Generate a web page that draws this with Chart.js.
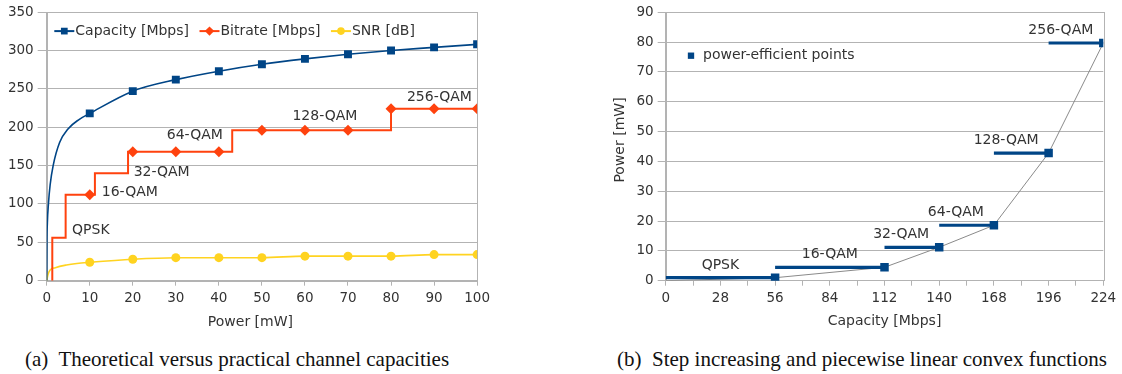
<!DOCTYPE html>
<html><head><meta charset="utf-8">
<script src="https://cdn.jsdelivr.net/npm/chart.js@4.4.1/dist/chart.umd.min.js"></script>
<style>
html,body{margin:0;padding:0;background:#fff;}
body{width:1122px;height:374px;position:relative;overflow:hidden;}
#wa{position:absolute;left:0;top:0;width:495px;height:335px;}
#wb{position:absolute;left:600px;top:0;width:522px;height:335px;}
.cap{position:absolute;top:347px;font-family:'Liberation Serif','Times New Roman',serif;font-size:21px;line-height:24px;color:#111;white-space:pre;}
</style></head><body>
<div id="wa"><canvas id="ca"></canvas></div>
<div id="wb"><canvas id="cb"></canvas></div>
<div class="cap" style="left:25px">(a)  Theoretical versus practical channel capacities</div>
<div class="cap" style="left:617px">(b)  Step increasing and piecewise linear convex functions</div>
<script>
// ---------- data ----------
const modulations = ['QPSK','16-QAM','32-QAM','64-QAM','128-QAM','256-QAM'];
const bitrates = [56,112,140,168,196,224];

// (a) theoretical vs practical
const capPower = [0,0.05,0.15,0.4,0.8,1.5,3,5,7.5,10,20,30,40,50,60,70,80,90,100];
const capacity = [0,50,75,100,125,150,180,198,210,218,247,262,273,282,289,295,300,304,308];
const snrPower = [0,0.3,0.8,2,4.6,7,10,20,30,40,50,60,70,80,90,100];
const snr = [0,8,14,17,20.5,22.5,24,28,30,30,30,32,32,32,34,34];
const switchPower = [1.3,4.4,11.2,18.9,43.1,80];
const samplePower = [10,20,30,40,50,60,70,80,90,100];
const sampleBitrate = [112,168,168,168,196,196,196,224,224,224];

// (b) power-efficient points
const capacityB = [56,112,140,168,196,224];
const powerB = [1,4.5,11.2,18.6,42.8,79.7];

// ---------- styles ----------
const FONT = 'DejaVu Sans';
const TXT = '#333';
const GRID = '#b3b3b3';
const BLUE = '#004586', ORANGE = '#ff420e', YELLOW = '#ffd320';

const frame = {
  id:'frame',
  beforeDatasetsDraw(chart){
    const a = chart.chartArea, c = chart.ctx;
    c.save(); c.strokeStyle = GRID; c.lineWidth = 1;
    c.strokeRect(Math.round(a.left)+0.5, Math.round(a.top)+0.5, Math.round(a.right-a.left), Math.round(a.bottom-a.top));
    c.restore();
  }
};

const axisTitles = {
  id:'axisTitles',
  afterDraw(chart, args, o){
    const a = chart.chartArea, c = chart.ctx;
    c.save(); c.fillStyle = TXT; c.font = '14px "' + FONT + '"';
    c.textAlign = 'center'; c.textBaseline = 'middle';
    if (o.x) c.fillText(o.x.text, (a.left+a.right)/2 + o.x.dx, a.bottom + o.x.dy);
    if (o.y) {
      c.translate(a.left + o.y.dx, (a.top+a.bottom)/2 + o.y.dy);
      c.rotate(-Math.PI/2);
      c.fillText(o.y.text, 0, 0);
    }
    c.restore();
  }
};

function marker(c, ds, x, y, scale){
  c.fillStyle = ds.pointBackgroundColor || ds.backgroundColor;
  c.strokeStyle = ds.pointBackgroundColor || ds.backgroundColor;
  Chart.helpers.drawPoint(c, {pointStyle: ds.pointStyle, radius: ds.legendRadius*scale, borderWidth: 0, rotation: 0}, x, y);
}

// ---------- chart (a) ----------
const isSample = p => samplePower.includes(p);

const stepData = [{x: switchPower[0], y: 0}].concat(
  switchPower.map((p,i)=>({x:p, y:bitrates[i]})),
  [{x:100, y:bitrates[bitrates.length-1]}]
);

const legendA = {
  id:'legendA',
  afterDraw(chart){
    const a = chart.chartArea, c = chart.ctx;
    const items = [
      {text:'Capacity [Mbps]', ds: chart.data.datasets[0]},
      {text:'Bitrate [Mbps]', ds: chart.data.datasets[2]},
      {text:'SNR [dB]', ds: chart.data.datasets[3]}
    ];
    let x = a.left + 7.6; const y = a.top + 19;
    c.save(); c.font = '14px "' + FONT + '"'; c.textBaseline = 'middle';
    for (const it of items){
      c.strokeStyle = it.ds.legendLine; c.lineWidth = 2;
      c.beginPath(); c.moveTo(x, y); c.lineTo(x+20, y); c.stroke();
      marker(c, it.ds, x+10, y, 0.85);
      c.fillStyle = TXT; c.fillText(it.text, x+21, y);
      x += 21 + c.measureText(it.text).width + 10.5;
    }
    c.restore();
  }
};

const labelsA = {
  id:'labelsA',
  afterDatasetsDraw(chart, args, o){
    const xs = chart.scales.x, ys = chart.scales.y, c = chart.ctx;
    c.save(); c.font = '14px "' + FONT + '"'; c.fillStyle = TXT;
    c.textAlign = 'left'; c.textBaseline = 'middle';
    modulations.forEach((m,i)=>{
      const an = o.anchors[i];
      c.fillText(m, xs.getPixelForValue(an[0]), ys.getPixelForValue(an[1]));
    });
    c.restore();
  }
};

new Chart(document.getElementById('ca'), {
  type:'line',
  data:{ datasets:[
    { label:'Capacity [Mbps]', order:0, data: capPower.map((p,i)=>({x:p,y:capacity[i]})),
      borderColor:BLUE, backgroundColor:BLUE, borderWidth:1.6, cubicInterpolationMode:'monotone',
      pointStyle:'rect', pointRadius: ctx => isSample(ctx.raw.x) ? 5.6 : 0, pointBorderWidth:0,
      legendRadius:5.6, legendLine:BLUE },
    { label:'Bitrate step', order:2, data: stepData, stepped:'before', borderColor:ORANGE, borderWidth:2,
      pointRadius:0 },
    { label:'Bitrate [Mbps]', order:1, data: samplePower.map((p,i)=>({x:p,y:sampleBitrate[i]})), showLine:false,
      borderColor:ORANGE, backgroundColor:ORANGE, pointStyle:'rectRot', pointRadius:5.5, pointBorderWidth:0,
      legendRadius:5.5, legendLine:ORANGE },
    { label:'SNR [dB]', order:3, data: snrPower.map((p,i)=>({x:p,y:snr[i]})),
      borderColor:YELLOW, backgroundColor:YELLOW, borderWidth:1.6, cubicInterpolationMode:'monotone',
      pointStyle:'circle', pointRadius: ctx => isSample(ctx.raw.x) ? 4.5 : 0, pointBorderWidth:0,
      legendRadius:4.5, legendLine:YELLOW }
  ]},
  options:{
    responsive:true, maintainAspectRatio:false, animation:false, events:[],
    layout:{ padding:{left:0, top:10, right:16.7, bottom:0} },
    plugins:{ legend:{display:false}, tooltip:{enabled:false},
      axisTitles:{ x:{text:'Power [mW]', dx:-11.5, dy:42} },
      labelsA:{ anchors:[[5.9,66],[12.8,114.6],[20.2,140.6],[27.9,189.7],[57.1,214.5],[83.7,239.2]] }
    },
    scales:{
      x:{ type:'linear', min:0, max:100,
        ticks:{ stepSize:10, color:TXT, font:{family:FONT, size:13.5}, padding:5, maxRotation:0 },
        grid:{ drawOnChartArea:false, tickLength:5, color:GRID },
        border:{ color:GRID },
        afterFit(s){ s.height = 54.3; } },
      y:{ min:0, max:350,
        ticks:{ stepSize:50, color:TXT, font:{family:FONT, size:13.5}, padding:4 },
        grid:{ color:GRID, tickLength:9 },
        border:{ color:GRID },
        afterFit(s){ s.width = 46.7; } }
    }
  },
  plugins:[frame, axisTitles, legendA, labelsA]
});

// ---------- chart (b) ----------
const barData = [];
capacityB.forEach((cap,i)=>{
  const start = i ? capacityB[i-1] : 0;
  barData.push({x:start, y:powerB[i]}, {x:cap, y:powerB[i]}, {x:cap, y:null});
});

const legendB = {
  id:'legendB',
  afterDraw(chart){
    const a = chart.chartArea, c = chart.ctx, ds = chart.data.datasets[2];
    c.save();
    marker(c, ds, a.left + 25.3, a.top + 43.4, 0.8);
    c.font = '14px "' + FONT + '"'; c.textBaseline = 'middle'; c.fillStyle = TXT;
    c.fillText('power-efficient points', a.left + 37.3, a.top + 43.4);
    c.restore();
  }
};

const labelsB = {
  id:'labelsB',
  afterDatasetsDraw(chart){
    const xs = chart.scales.x, ys = chart.scales.y, c = chart.ctx;
    c.save(); c.font = '14px "' + FONT + '"'; c.fillStyle = TXT;
    c.textAlign = 'center'; c.textBaseline = 'middle';
    modulations.forEach((m,i)=>{
      const x0 = xs.getPixelForValue(i ? capacityB[i-1] : 0);
      const x1 = xs.getPixelForValue(capacityB[i]);
      const w = c.measureText(m).width;
      const cx = Math.min((x0+x1)/2, x1 - 10 - w/2);
      c.fillText(m, cx, ys.getPixelForValue(powerB[i]) - 12.5);
    });
    c.restore();
  }
};

new Chart(document.getElementById('cb'), {
  type:'line',
  data:{ datasets:[
    { label:'convex', order:2, data: [{x:0,y:0}].concat(capacityB.map((c,i)=>({x:c,y:powerB[i]}))),
      borderColor:'#8a8a8a', borderWidth:1, pointRadius:0, tension:0 },
    { label:'steps', order:1, data: barData, borderColor:BLUE, borderWidth:3.2, pointRadius:0, spanGaps:false },
    { label:'power-efficient points', order:0, data: capacityB.map((c,i)=>({x:c,y:powerB[i]})), showLine:false,
      borderColor:BLUE, backgroundColor:BLUE, pointStyle:'rect', pointRadius:6, pointBorderWidth:0,
      legendRadius:5.6 }
  ]},
  options:{
    responsive:true, maintainAspectRatio:false, animation:false, events:[],
    layout:{ padding:{left:0, top:12.3, right:18.7, bottom:0} },
    plugins:{ legend:{display:false}, tooltip:{enabled:false},
      axisTitles:{ x:{text:'Capacity [Mbps]', dx:0, dy:41}, y:{text:'Power [mW]', dx:-45.7, dy:-6.5} }
    },
    scales:{
      x:{ type:'linear', min:0, max:224,
        ticks:{ stepSize:14, autoSkip:false, color:TXT, font:{family:FONT, size:13.5}, padding:5, maxRotation:0,
          callback: v => (v % 28 === 0 ? String(v) : '') },
        grid:{ drawOnChartArea:false, tickLength:5, color:GRID },
        border:{ color:GRID },
        afterFit(s){ s.height = 54.3; } },
      y:{ min:0, max:90,
        ticks:{ stepSize:10, color:TXT, font:{family:FONT, size:13.5}, padding:4 },
        grid:{ color:GRID, tickLength:8 },
        border:{ color:GRID },
        afterFit(s){ s.width = 65.7; } }
    }
  },
  plugins:[frame, axisTitles, legendB, labelsB]
});
</script>
</body></html>
